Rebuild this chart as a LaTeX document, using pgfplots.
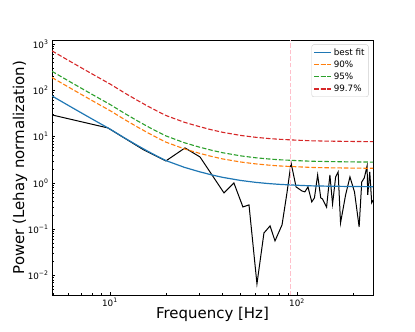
\documentclass[border=0pt]{standalone}
\usepackage{fontspec}
\setmainfont{DejaVu Sans}
\usepackage{pgfplots}
\pgfplotsset{compat=1.18}
\usepackage{pgfplotstable}

\definecolor{cblue}{HTML}{1F77B4}
\definecolor{corange}{HTML}{FF7F0E}
\definecolor{cgreen}{HTML}{2CA02C}
\definecolor{cred}{HTML}{D62728}
\definecolor{cpink}{HTML}{FFC0CB}

% best fit and the three confidence levels
\pgfplotstableread{
f     fit    p90    p95    p997
4.9   75.5   188.8  256.7  709.7
6     47.0   117.5  159.8  441.8
7     32.9   82.3   111.9  309.3
8     24.2   60.5   82.3   227.5
9     18.5   46.3   62.9   173.9
10    14.6   36.5   49.6   137.2
12    9.3    23.3   31.6   87.4
14    6.47   16.2   22.0   60.8
16    4.79   12.0   16.3   45.0
18    3.73   9.33   12.7   35.1
20    3.02   7.55   10.3   28.4
25    2.17   5.43   7.38   20.4
30    1.75   4.38   5.95   16.5
35    1.49   3.73   5.07   14.0
40    1.32   3.30   4.49   12.4
50    1.13   2.83   3.84   10.6
60    1.03   2.58   3.50   9.68
70    0.97   2.43   3.30   9.12
80    0.933  2.33   3.17   8.77
100   0.89   2.23   3.03   8.37
120   0.864  2.16   2.94   8.12
150   0.849  2.12   2.89   7.98
200   0.836  2.09   2.84   7.86
255   0.829  2.07   2.82   7.79
}\fitdata

% periodogram
\pgfplotstableread{
f      p
4.9    29.4
9.75   15.4
15     5.3
19.9   2.98
25.2   5.7
30.3   3.64
40.7   0.61
46     1.0
51.4   0.303
55.4   0.335
61.1   0.0066
66.6   0.083
71.8   0.118
76.3   0.056
83.2   0.124
88.4   0.61
93     2.70
98.9   0.82
106.4  0.67
110.2  0.64
114.5  0.82
120    0.39
124    0.475
129    1.49
134    0.475
137    0.45
144    0.30
150    1.49
155    0.35
161    1.35
166    1.73
171    0.137
182    0.55
192    1.35
203    0.64
215    0.112
222    1.05
229    1.28
237    2.33
239    0.55
245    1.73
251    0.37
255    0.42
}\psd

\begin{document}
\begin{tikzpicture}
\useasboundingbox (-52bp,-37bp) rectangle (363bp,295bp);
\begin{axis}[
    at={(0,0)}, anchor=south west,
    scale only axis, width=321bp, height=255bp,
    xmode=log, ymode=log,
    xmin=4.9, xmax=255, ymin=0.0038, ymax=1220,
    xtick={10,100},
    xticklabels={10\textsuperscript{1},10\textsuperscript{2}},
    minor xtick={5,6,7,8,9,20,30,40,50,60,70,80,90,200},
    ytick={0.01,0.1,1,10,100,1000},
    yticklabels={10\textsuperscript{−2},10\textsuperscript{−1},10\textsuperscript{0},10\textsuperscript{1},10\textsuperscript{2},10\textsuperscript{3}},
    minor ytick={0.004,0.005,0.006,0.007,0.008,0.009,0.02,0.03,0.04,0.05,0.06,0.07,0.08,0.09,0.2,0.3,0.4,0.5,0.6,0.7,0.8,0.9,2,3,4,5,6,7,8,9,20,30,40,50,60,70,80,90,200,300,400,500,600,700,800,900},
    tick pos=left, tick align=inside,
    major tick length=3.2bp, minor tick length=1.8bp,
    major tick style={black, line width=0.7bp},
    minor tick style={black, line width=0.5bp},
    axis line style={line width=0.7bp},
    ticklabel style={font=\fontsize{8.8}{10}\selectfont},
    xlabel={Frequency [Hz]},
    ylabel={Power (Lehay normalization)},
    every axis x label/.style={at={(axis description cs:0.5,-0.075)}, anchor=center,
        font=\fontsize{15}{18}\selectfont},
    every axis y label/.style={at={(axis description cs:-0.1,0.5)}, anchor=center, rotate=90,
        font=\fontsize{15}{18}\selectfont},
    legend style={at={(1,1)}, anchor=north east, xshift=-4.5bp, yshift=-4.5bp,
        draw={rgb,255:red,204;green,204;blue,204}, rounded corners=2bp,
        font=\fontsize{8.8}{10}\selectfont, inner sep=2bp, row sep=0.5bp,
        nodes={inner sep=1.8bp}},
    legend cell align=left,
]
\addplot[forget plot, black, line width=1bp] table[x=f, y=p] {\psd};

\addplot[cblue, line width=1.2bp] table[x=f, y=fit] {\fitdata};
\addlegendentry{best fit}
\addplot[corange, line width=1.1bp, dash pattern=on 4.5bp off 2bp] table[x=f, y=p90] {\fitdata};
\addlegendentry{90\%}
\addplot[cgreen, line width=1.1bp, dash pattern=on 4.5bp off 2bp] table[x=f, y=p95] {\fitdata};
\addlegendentry{95\%}
\addplot[cred, line width=1.1bp, dash pattern=on 4.5bp off 2bp] table[x=f, y=p997] {\fitdata};
\addlegendentry{99.7\%}

\addplot[forget plot, cpink, line width=1.1bp, dash pattern=on 4.5bp off 2bp] coordinates {(92.5,0.0038) (92.5,1220)};
\end{axis}
\end{tikzpicture}
\end{document}
